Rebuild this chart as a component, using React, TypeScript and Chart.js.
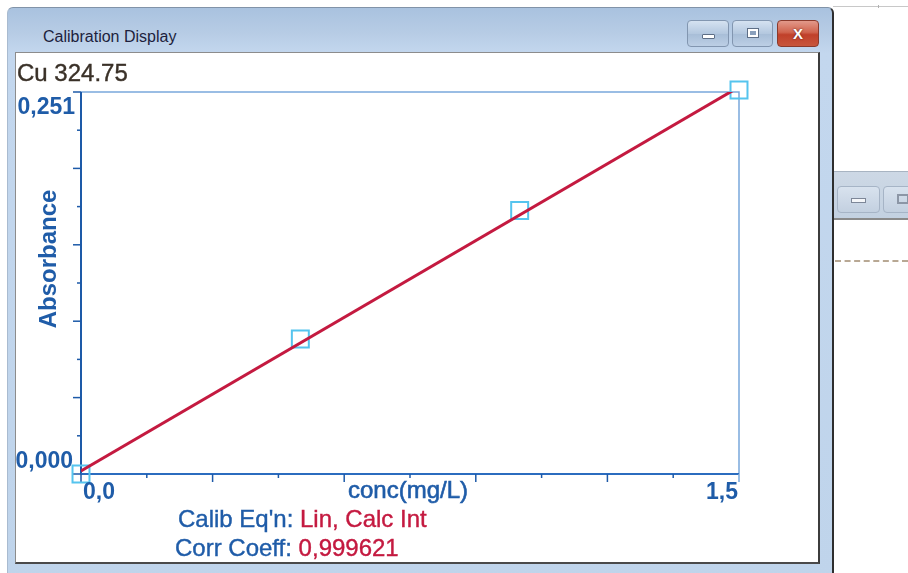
import React, { useEffect, useRef } from "react";
import { Chart, registerables } from "chart.js";

Chart.register(...registerables);

// ---- data ----
const concentrations = [0, 0.5, 1.0, 1.5];
const absorbances = [0.0, 0.0887, 0.1731, 0.2523];
const fitConc = [0, 1.5];
const fitAbs = [0.002, 0.2543];
const xMin = 0;
const xMax = 1.5;
const yMin = 0;
const yMax = 0.251;
const tickIntervals = 10;
const xTickLabels = ["0,0", "1,5"];
const yTickLabels = ["0,000", "0,251"];
const xAxisTitle = "conc(mg/L)";
const yAxisTitle = "Absorbance";
const elementLine = "Cu 324.75";
const windowTitle = "Calibration Display";
const eqnLabel = "Calib Eq'n:";
const eqnValue = "Lin, Calc Int";
const corrLabel = "Corr Coeff:";
const corrValue = "0,999621";

const AXIS_BLUE = "#1d5aa8";
const TEXT_BLUE = "#1f5ca8";
const RED = "#c41a40";
const FONT = "'Liberation Sans', Arial, sans-serif";

const axesPlugin = {
  id: "calibAxes",
  beforeDatasetsDraw(chart: any) {
    const { ctx, chartArea: a, scales } = chart;
    const xs = scales.x;
    const ys = scales.y;
    ctx.save();
    // top and right frame
    ctx.strokeStyle = "#79a8dc";
    ctx.lineWidth = 1.5;
    ctx.beginPath();
    ctx.moveTo(a.left, a.top);
    ctx.lineTo(a.right, a.top);
    ctx.lineTo(a.right, a.bottom);
    ctx.stroke();
    // axes
    ctx.strokeStyle = AXIS_BLUE;
    ctx.lineWidth = 2;
    ctx.beginPath();
    ctx.moveTo(a.left, a.top);
    ctx.lineTo(a.left, a.bottom);
    ctx.stroke();
    ctx.strokeStyle = "#2b6cbf";
    ctx.beginPath();
    ctx.moveTo(a.left, a.bottom);
    ctx.lineTo(a.right, a.bottom);
    ctx.stroke();
    // ticks
    ctx.lineWidth = 1.5;
    for (let i = 0; i <= tickIntervals; i++) {
      const len = i % 2 === 0 ? 8 : 4;
      const xv = xMin + ((xMax - xMin) * i) / tickIntervals;
      const px = xs.getPixelForValue(xv);
      ctx.strokeStyle = i === tickIntervals ? "#79a8dc" : AXIS_BLUE;
      ctx.beginPath();
      ctx.moveTo(px, a.bottom);
      ctx.lineTo(px, a.bottom + len);
      ctx.stroke();
      const yv = yMin + ((yMax - yMin) * i) / tickIntervals;
      const py = ys.getPixelForValue(yv);
      ctx.strokeStyle = AXIS_BLUE;
      ctx.beginPath();
      ctx.moveTo(a.left, py);
      ctx.lineTo(a.left - len, py);
      ctx.stroke();
    }
    ctx.restore();
  },
  afterDraw(chart: any) {
    const { ctx, chartArea: a, scales } = chart;
    const xs = scales.x;
    const ys = scales.y;
    ctx.save();
    ctx.fillStyle = TEXT_BLUE;
    ctx.strokeStyle = TEXT_BLUE;
    ctx.font = `bold 23px ${FONT}`;
    ctx.textBaseline = "alphabetic";
    // y tick labels
    ctx.textAlign = "right";
    ctx.fillText(yTickLabels[1], a.left - 6, ys.getPixelForValue(yMax) + 22);
    ctx.fillText(yTickLabels[0], a.left - 8, ys.getPixelForValue(yMin) - 6);
    // x tick labels
    ctx.textAlign = "left";
    ctx.fillText(xTickLabels[0], xs.getPixelForValue(xMin) + 2, a.bottom + 25);
    ctx.textAlign = "right";
    ctx.fillText(xTickLabels[1], xs.getPixelForValue(xMax) - 1, a.bottom + 25);
    // x title
    ctx.font = `24px ${FONT}`;
    ctx.textAlign = "center";
    ctx.lineWidth = 0.6;
    const tx = (a.left + a.right) / 2 - 2;
    ctx.fillText(xAxisTitle, tx, a.bottom + 24);
    ctx.strokeText(xAxisTitle, tx, a.bottom + 24);
    // y title
    ctx.font = `bold 24px ${FONT}`;
    ctx.translate(a.left - 32, (a.top + a.bottom) / 2 - 24);
    ctx.rotate(-Math.PI / 2);
    ctx.textAlign = "center";
    ctx.textBaseline = "middle";
    ctx.fillText(yAxisTitle, 0, 0);
    ctx.restore();
  },
};

function CalibChart() {
  const ref = useRef<HTMLCanvasElement | null>(null);
  useEffect(() => {
    if (!ref.current) return;
    const chart = new Chart(ref.current, {
      type: "scatter",
      data: {
        datasets: [
          {
            type: "line",
            label: "fit",
            data: fitConc.map((x, i) => ({ x, y: fitAbs[i] })),
            borderColor: RED,
            borderWidth: 3,
            pointRadius: 0,
            fill: false,
            order: 0,
          } as any,
          {
            type: "scatter",
            label: "standards",
            data: concentrations.map((x, i) => ({ x, y: absorbances[i] })),
            pointStyle: "rect",
            pointRadius: 12,
            pointBorderWidth: 2,
            borderColor: "#55c4ee",
            backgroundColor: "rgba(0,0,0,0)",
            showLine: false,
            clip: false,
            order: 1,
          } as any,
        ],
      },
      options: {
        animation: false,
        responsive: false,
        events: [],
        layout: { padding: { left: 65, top: 39, right: 79, bottom: 87 } },
        plugins: { legend: { display: false }, tooltip: { enabled: false } },
        scales: {
          x: { type: "linear", min: xMin, max: xMax, display: false },
          y: { type: "linear", min: yMin, max: yMax, display: false },
        },
      },
      plugins: [axesPlugin],
    });
    return () => chart.destroy();
  }, []);
  return (
    <canvas
      ref={ref}
      width={802}
      height={508}
      style={{ position: "absolute", left: 16, top: 53, width: 802, height: 508 }}
    />
  );
}

const btnBase: React.CSSProperties = {
  position: "absolute",
  top: 20,
  height: 27,
  borderRadius: 4,
  boxSizing: "border-box",
  border: "1px solid #8296b0",
  background: "linear-gradient(#d5e2f1, #b4c8df 50%, #a7bdd7 51%, #bccfe5)",
};

const heavyText: React.CSSProperties = {
  position: "absolute",
  fontSize: 24,
  lineHeight: "24px",
  whiteSpace: "nowrap",
  WebkitTextStroke: "0.4px currentColor",
};

export default function App() {
  useEffect(() => {
    document.body.style.margin = "0";
  }, []);
  return (
    <div
      style={{
        position: "fixed",
        left: 0,
        top: 0,
        width: 908,
        height: 573,
        background: "#ffffff",
        overflow: "hidden",
        fontFamily: FONT,
      }}
    >
      {/* background strip line at top right */}
      <div style={{ position: "absolute", left: 833, top: 6, width: 75, height: 1, background: "#c8c8c8" }} />
      <div style={{ position: "absolute", left: 878, top: 5, width: 1, height: 3, background: "#b0b0b0" }} />

      {/* neighbouring window fragment on the right */}
      <div
        style={{
          position: "absolute",
          left: 833,
          top: 171,
          width: 75,
          height: 49,
          boxSizing: "border-box",
          borderTop: "1px solid #a8b4c2",
          borderBottom: "2px solid #8a8a8a",
          background: "linear-gradient(#cdd8e5, #c3d1e1)",
        }}
      />
      <div style={{ ...btnBase, left: 837, top: 186, width: 43, height: 27, border: "1px solid #a6b4c6", background: "linear-gradient(#d8e2ee, #c3d0e0)" }}>
        <div style={{ position: "absolute", left: 13, top: 11, width: 15, height: 5, background: "#f4f6f9", border: "1px solid #7d8798", boxSizing: "border-box" }} />
      </div>
      <div style={{ ...btnBase, left: 883, top: 186, width: 40, height: 27, border: "1px solid #a6b4c6", background: "linear-gradient(#d8e2ee, #c3d0e0)" }}>
        <div style={{ position: "absolute", left: 13, top: 7, width: 12, height: 10, border: "2px solid #8c96a6", boxSizing: "border-box" }} />
      </div>
      <div
        style={{
          position: "absolute",
          left: 835,
          top: 260,
          width: 73,
          height: 0,
          borderTop: "2px dashed #b8a894",
        }}
      />

      {/* main window frame */}
      <div
        style={{
          position: "absolute",
          left: 7,
          top: 7,
          width: 827,
          height: 580,
          boxSizing: "border-box",
          borderTop: "1px solid #8193a8",
          borderLeft: "1px solid #a9bbd0",
          borderRight: "2px solid #2e2e2e",
          borderTopLeftRadius: 6,
          borderTopRightRadius: 6,
          background: "linear-gradient(#a9c2df 0px, #b7cce5 25px, #c3d7ee 45px, #bfd4eb 100%)",
        }}
      />
      <div
        style={{
          position: "absolute",
          left: 43,
          top: 28.5,
          fontSize: 16,
          lineHeight: "16px",
          color: "#1d1f3d",
          whiteSpace: "nowrap",
        }}
      >
        {windowTitle}
      </div>

      {/* caption buttons */}
      <div style={{ ...btnBase, left: 687, width: 42 }}>
        <div style={{ position: "absolute", left: 14, top: 13, width: 13, height: 5, background: "#ffffff", border: "1px solid #5d6e86", boxSizing: "border-box", borderRadius: 1 }} />
      </div>
      <div style={{ ...btnBase, left: 732, width: 41 }}>
        <div style={{ position: "absolute", left: 14, top: 7, width: 12, height: 10, background: "#ffffff", border: "1px solid #5d6e86", boxSizing: "border-box" }}>
          <div style={{ position: "absolute", left: 2, top: 2, width: 6, height: 4, background: "#8aa0bc" }} />
        </div>
      </div>
      <div
        style={{
          ...btnBase,
          left: 777,
          width: 42,
          border: "1px solid #8a3a2c",
          background: "linear-gradient(#e2998a, #d0644e 45%, #c0402a 55%, #c8563c)",
          color: "#ffffff",
          fontWeight: "bold",
          fontSize: 15,
          lineHeight: "25px",
          textAlign: "center",
          textShadow: "0 0 2px #5a1a10",
        }}
      >
        X
      </div>

      {/* white client panel */}
      <div
        style={{
          position: "absolute",
          left: 15,
          top: 52,
          width: 805,
          height: 512,
          boxSizing: "border-box",
          background: "#ffffff",
          borderTop: "1px solid #8c8c8c",
          borderLeft: "1px solid #8c8c8c",
          borderRight: "2px solid #3c3c3c",
          borderBottom: "2px solid #4a4a4a",
        }}
      />

      <CalibChart />

      <div style={{ ...heavyText, left: 17, top: 61, color: "#3a3128" }}>{elementLine}</div>

      <div style={{ ...heavyText, left: 178, top: 507 }}>
        <span style={{ color: TEXT_BLUE }}>{eqnLabel} </span>
        <span style={{ color: RED }}>{eqnValue}</span>
      </div>
      <div style={{ ...heavyText, left: 175, top: 536 }}>
        <span style={{ color: TEXT_BLUE }}>{corrLabel} </span>
        <span style={{ color: RED }}>{corrValue}</span>
      </div>
    </div>
  );
}
